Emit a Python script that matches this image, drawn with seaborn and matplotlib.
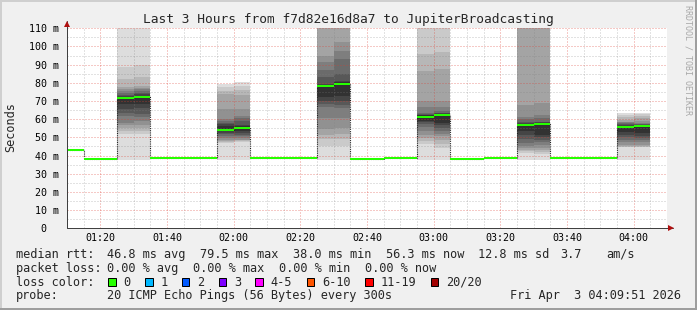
import numpy as np
import pandas as pd
import matplotlib
matplotlib.use("Agg")
import matplotlib.pyplot as plt
import seaborn as sns
from matplotlib.patches import Rectangle

# ---------------- data ----------------
title = "Last 3 Hours from f7d82e16d8a7 to JupiterBroadcasting"
window_start = "01:10"
window_end = "04:10"
bin_minutes = 5

bin_starts = ["01:10", "01:15", "01:20", "01:25", "01:30", "01:35", "01:40",
              "01:45", "01:50", "01:55", "02:00", "02:05", "02:10", "02:15",
              "02:20", "02:25", "02:30", "02:35", "02:40", "02:45", "02:50",
              "02:55", "03:00", "03:05", "03:10", "03:15", "03:20", "03:25",
              "03:30", "03:35", "03:40", "03:45", "03:50", "03:55", "04:00"]
median_ms = [42.8, 38.0, 38.0, 71.5, 72.0, 38.6, 38.6,
             38.6, 38.6, 54.0, 55.0, 38.6, 38.6, 38.6,
             38.6, 78.5, 79.5, 38.0, 38.0, 38.6, 38.6,
             61.3, 62.2, 38.0, 38.0, 38.6, 38.6, 56.8,
             57.4, 38.6, 38.6, 38.6, 38.6, 55.8, 56.3]

# sorted ping rtts (ms) of the bins that show smoke
smoke_starts = ["01:25", "01:30", "01:55", "02:00", "02:25", "02:30",
                "02:55", "03:00", "03:25", "03:30", "03:55", "04:00"]
p0125 = [37.8, 51.6, 53.5, 55.3, 56.7, 58.1, 61.8, 63.5, 65.5, 68.2, 72.0, 72.7, 73.4, 74.5, 75.6, 76.5, 77.5, 82.1, 88.9, 140.0]
p0130 = [37.8, 51.6, 53.5, 55.3, 57.0, 59.0, 61.0, 62.7, 66.4, 68.5, 72.3, 73.8, 74.6, 75.5, 76.5, 77.4, 78.4, 83.0, 90.0, 140.0]
p0155 = [37.8, 47.0, 47.4, 47.9, 48.8, 49.8, 50.7, 51.6, 52.5, 53.5, 56.2, 57.2, 58.1, 59.0, 59.9, 65.5, 73.8, 75.5, 77.5, 79.3]
p0200 = [37.8, 47.2, 47.8, 48.3, 48.8, 49.8, 50.7, 51.5, 52.4, 53.5, 56.0, 56.6, 59.0, 60.4, 61.8, 65.5, 73.2, 76.2, 78.5, 80.6]
p0225 = [37.8, 45.0, 48.9, 51.5, 54.4, 60.5, 66.8, 68.4, 70.0, 72.0, 79.0, 79.3, 83.0, 87.0, 91.3, 95.0, 115.0, 128.0, 140.0, 150.0]
p0230 = [37.8, 45.0, 48.9, 52.0, 55.3, 60.5, 66.0, 68.0, 70.0, 72.8, 80.2, 81.0, 84.8, 93.1, 97.7, 102.4, 115.0, 125.0, 135.0, 150.0]
p0255 = [37.8, 46.1, 48.0, 49.8, 51.5, 53.5, 55.5, 57.5, 58.2, 59.0, 62.1, 62.4, 62.8, 63.6, 66.5, 70.0, 86.7, 95.9, 120.0, 150.0]
p0300 = [37.8, 44.0, 46.5, 48.5, 50.7, 52.0, 53.5, 55.2, 56.8, 58.1, 62.9, 63.2, 63.6, 64.5, 66.5, 70.0, 87.6, 96.8, 120.0, 150.0]
p0325 = [37.8, 41.2, 42.3, 43.2, 44.0, 45.4, 46.8, 49.0, 51.3, 53.5, 57.4, 57.8, 58.6, 60.0, 61.4, 67.8, 115.0, 130.0, 145.0, 160.0]
p0330 = [37.8, 41.0, 42.0, 43.0, 44.0, 45.8, 47.6, 48.8, 50.0, 51.3, 57.9, 58.2, 58.6, 60.5, 62.3, 68.8, 115.0, 130.0, 145.0, 160.0]
p0355 = [37.8, 44.5, 44.9, 45.3, 45.8, 47.2, 48.6, 50.0, 51.3, 53.1, 56.4, 56.8, 57.2, 57.8, 58.2, 58.6, 59.8, 61.0, 62.3, 63.6]
p0400 = [37.8, 44.5, 44.9, 45.3, 45.8, 47.2, 48.6, 49.8, 51.0, 52.3, 56.8, 57.0, 57.2, 57.5, 57.8, 59.2, 60.5, 61.8, 62.6, 63.6]
smoke_pings = [p0125, p0130, p0155, p0200, p0225, p0230,
               p0255, p0300, p0325, p0330, p0355, p0400]

xtick_labels = ["01:20", "01:40", "02:00", "02:20", "02:40", "03:00",
                "03:20", "03:40", "04:00"]
ytick_values = [0, 10, 20, 30, 40, 50, 60, 70, 80, 90, 100, 110]
ytick_labels = ["0  ", "10 m", "20 m", "30 m", "40 m", "50 m", "60 m",
                "70 m", "80 m", "90 m", "100 m", "110 m"]
y_label = "Seconds"

rtt_title = "median rtt:"
rtt_stats = ["46.8 ms avg", "79.5 ms max", "38.0 ms min", "56.3 ms now",
             "12.8 ms sd", "3.7", "am/s"]
loss_title = "packet loss:"
loss_stats = ["0.00 % avg", "0.00 % max", "0.00 % min", "0.00 % now"]
lossc_title = "loss color:"
loss_labels = ["0", "1", "2", "3", "4-5", "6-10", "11-19", "20/20"]
loss_colors = ["#26ff00", "#00b8ff", "#0059ff", "#7e00ff", "#ff00ff",
               "#ff5500", "#ff0000", "#a10000"]
probe_title = "probe:"
probe_text = "20 ICMP Echo Pings (56 Bytes) every 300s"
date_text = "Fri Apr  3 04:09:51 2026"
watermark = "RRDTOOL / TOBI OETIKER"


def tmin(s):
    h, m = s.split(":")
    return int(h) * 60 + int(m)


# ---------------- figure ----------------
W, H, DPI = 697, 310, 100
sns.set_style("white")
plt.rcParams['font.family'] = ['DejaVu Sans Mono', 'DejaVu Sans']
PX = 72.0 / DPI  # points per pixel

fig = plt.figure(figsize=(W / DPI, H / DPI), dpi=DPI, facecolor='#f0f0f0')

# 3D frame
for (x, y, w, h, c) in [(0, 1 - 2 / H, 1, 2 / H, '#cfcfcf'),
                        (0, 0, 2 / W, 1, '#cfcfcf'),
                        (0, 0, 1, 2 / H, '#9e9e9e'),
                        (1 - 2 / W, 0, 2 / W, 1, '#9e9e9e')]:
    fig.add_artist(Rectangle((x, y), w, h, transform=fig.transFigure,
                             facecolor=c, edgecolor='none', zorder=0))

X0, X1, Y0, Y1 = 67, 667, 28.3, 228.3
ax = fig.add_axes([X0 / W, 1 - Y1 / H, (X1 - X0) / W, (Y1 - Y0) / H])
ax.set_facecolor('white')
for s in ax.spines.values():
    s.set_visible(False)

t0, t1 = tmin(window_start), tmin(window_end)
ax.set_xlim(t0, t1)
ax.set_ylim(0, 110)

# smoke (SmokePing style: symmetric bands, darker towards the median)
for start, pings in zip(smoke_starts, smoke_pings):
    p = sorted(pings)
    n = len(p)
    half = n // 2
    for k in range(1, half + 1):
        shade = int(190 / half * (half - k)) + 50
        col = '#%02x%02x%02x' % (shade, shade, shade)
        ax.bar(tmin(start), p[n - k] - p[k - 1], bottom=p[k - 1],
               width=bin_minutes, align='edge', color=col, linewidth=0,
               antialiased=False, zorder=1)

# thin dark median step line
xs = [tmin(s) for s in bin_starts] + [tmin(bin_starts[-1]) + bin_minutes]
ys = median_ms + [median_ms[-1]]
df = pd.DataFrame({"t": xs, "median": ys})
sns.lineplot(data=df, x="t", y="median", drawstyle='steps-post',
             color='#202020', linewidth=0.8, linestyle=(0, (1, 1)),
             ax=ax, zorder=2)

# loss-coloured median segments
starts = np.array([tmin(s) for s in bin_starts], dtype=float)
ax.hlines(median_ms, starts, starts + bin_minutes, colors=loss_colors[0],
          linewidth=2 * PX, zorder=3)

# grid / ticks
major_x = [tmin(s) for s in xtick_labels]
minor_x = [v for v in range(t0, t1 + 1, 5) if v not in major_x]
ax.set_xticks(major_x)
ax.set_xticklabels(xtick_labels)
ax.set_xticks(minor_x, minor=True)
ax.set_yticks(ytick_values)
ax.set_yticklabels(ytick_labels)
ax.set_yticks([v + 5 for v in ytick_values[:-1]], minor=True)
ax.set_xlabel("")
ax.set_ylabel("")
ax.set_axisbelow(False)
ax.grid(which='minor', color=(0.5, 0.5, 0.5), alpha=0.45,
        linestyle=(0, (1, 2)), linewidth=PX)
ax.grid(which='major', color=(0.87, 0.24, 0.19), alpha=0.55,
        linestyle=(0, (1, 2)), linewidth=PX)
ax.tick_params(which='major', length=3 * PX, width=PX, color='#d07070',
               labelsize=7.2, pad=1.5, labelcolor='black')
ax.tick_params(which='minor', length=2 * PX, width=PX, color='#a0a0a0')
ax.tick_params(axis='y', which='major', color='#404040', pad=3.5)

# axes with arrows
axis_col = '#404040'
arrow_col = '#b01010'
ax.plot([0, 0], [0, (Y1 - 21) / (Y1 - Y0)], transform=ax.transAxes,
        clip_on=False, color=axis_col, lw=PX, zorder=5)
ax.plot([0, (673 - X0) / (X1 - X0)], [0, 0], transform=ax.transAxes,
        clip_on=False, color=axis_col, lw=PX, zorder=5)
ax.plot([0], [(Y1 - 23.5) / (Y1 - Y0)], marker='^', ms=4.5, mew=0,
        color=arrow_col, transform=ax.transAxes, clip_on=False, zorder=6)
ax.plot([(670.5 - X0) / (X1 - X0)], [0], marker='>', ms=4.5, mew=0,
        color=arrow_col, transform=ax.transAxes, clip_on=False, zorder=6)


# ---------------- texts ----------------
def put(xp, yp, s, **kw):
    kw.setdefault('fontsize', 8.6)
    kw.setdefault('va', 'baseline')
    kw.setdefault('ha', 'left')
    fig.text(xp / W, 1 - yp / H, s, **kw)


put(348, 23.3, title, fontsize=9.3, ha='center')
put(10.5, 127, y_label, rotation=90, va='center', ha='center')
put(688, 5, watermark, rotation=270, va='top', ha='center', fontsize=6,
    color='#a8a8a8')

L1, L2, L3, L4 = 257.7, 271.6, 285.6, 299.4
put(16, L1, rtt_title)
for s, xp in zip(rtt_stats, [107.3, 200, 293.3, 386, 478.3, 560, 606.7]):
    put(xp, L1, s)
put(16, L2, loss_title)
for s, xp in zip(loss_stats, [107.3, 193.3, 279.3, 365]):
    put(xp, L2, s)
put(16, L3, lossc_title)
cw = 7.2
bx = 108.3
for lab, col in zip(loss_labels, loss_colors):
    fig.add_artist(Rectangle((bx / W, 1 - 285.8 / H), 7.5 / W, 7.5 / H,
                             transform=fig.transFigure, facecolor=col,
                             edgecolor='black', linewidth=PX))
    put(bx + 15.2, L3, lab)
    bx = bx + 15.2 + (len(lab) + 2) * cw
put(16, L4, probe_title)
put(107.3, L4, probe_text)
put(680.5, L4, date_text, ha='right')

fig.savefig("out.png", dpi=DPI, facecolor=fig.get_facecolor())
